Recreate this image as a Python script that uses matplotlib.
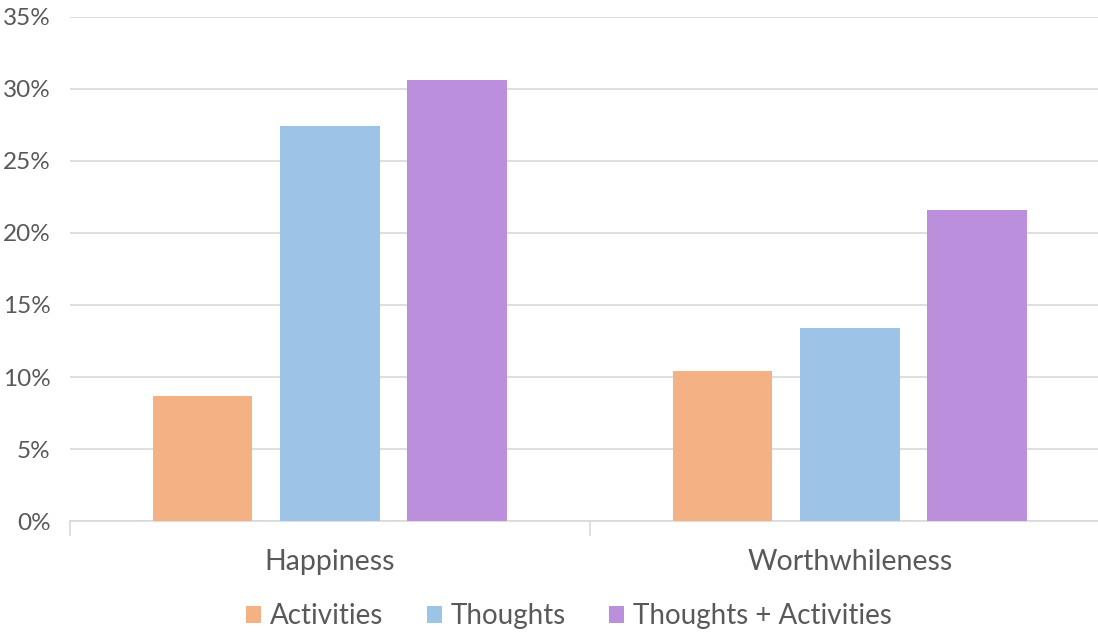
import matplotlib
matplotlib.use("Agg")
import matplotlib.pyplot as plt
from matplotlib.ticker import FuncFormatter, FixedLocator
import numpy as np

categories = ["Happiness", "Worthwhileness"]
series_names = ["Activities", "Thoughts", "Thoughts + Activities"]
activities = [0.087, 0.104]
thoughts = [0.274, 0.134]
thoughts_activities = [0.306, 0.216]
y_ticks = [0.0, 0.05, 0.10, 0.15, 0.20, 0.25, 0.30, 0.35]

colors = ["#F4B183", "#9DC3E6", "#BC8FDD"]
text_color = "#595959"
grid_color = "#D9D9D9"

plt.rcParams["font.family"] = ["Lato", "DejaVu Sans"]

W, H = 1098, 632
fig = plt.figure(figsize=(W / 100, H / 100), dpi=100)
ax_left, ax_right, ax_top, ax_bottom = 70, 1109.7, 16.5, 521.3
ax = fig.add_axes([ax_left / W, 1 - ax_bottom / H,
                   (ax_right - ax_left) / W, (ax_bottom - ax_top) / H])

x = np.arange(len(categories))
width = 0.192
step = 0.245
for i, (vals, name) in enumerate(zip([activities, thoughts, thoughts_activities], series_names)):
    ax.bar(x + (i - 1) * step, vals, width, color=colors[i], label=name, zorder=3)

ax.set_xlim(-0.5, len(categories) - 0.5)
ax.set_ylim(0, 0.35)
ax.set_yticks(y_ticks)
ax.yaxis.set_major_formatter(FuncFormatter(lambda v, _: f"{v * 100:.0f}%"))
ax.grid(axis="y", color=grid_color, linewidth=1.2, zorder=0)
ax.tick_params(axis="y", length=0, pad=14, labelsize=17.5, labelcolor=text_color)

ax.set_xticks(x)
ax.set_xticklabels(categories)
ax.tick_params(axis="x", which="major", length=0, pad=20, labelsize=20.5, labelcolor=text_color)
ax.xaxis.set_minor_locator(FixedLocator(np.arange(len(categories) + 1) - 0.5))
ax.tick_params(axis="x", which="minor", length=11, width=1.2, color=grid_color)

for side in ["left", "right", "top"]:
    ax.spines[side].set_visible(False)
ax.spines["bottom"].set_color(grid_color)
ax.spines["bottom"].set_linewidth(1.2)

fig.legend(loc="center", bbox_to_anchor=(569 / W, 1 - 616 / H), ncol=3, frameon=False,
           fontsize=20, labelcolor=text_color, handlelength=0.55, handleheight=0.55,
           handletextpad=0.32, columnspacing=1.55)

fig.savefig("out.png", dpi=100, facecolor="white")
